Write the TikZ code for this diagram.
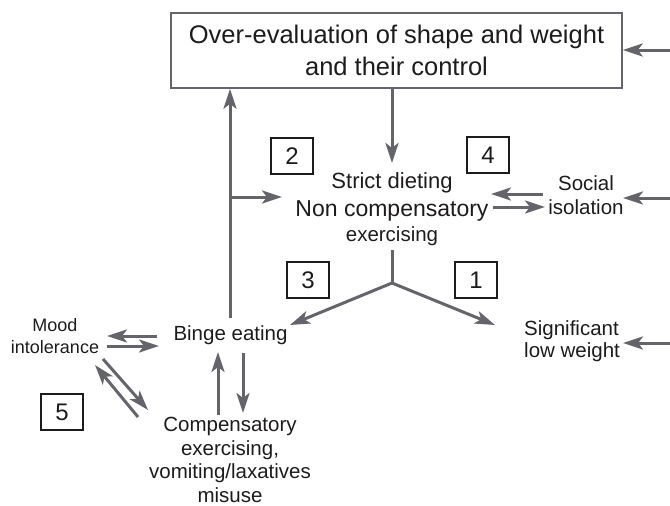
\documentclass[tikz,border=0pt]{standalone}
\usepackage{fontspec}
\setmainfont{Liberation Sans}
\usetikzlibrary{arrows.meta}
\definecolor{linegray}{RGB}{100,100,106}
\definecolor{txt}{RGB}{30,27,28}
\begin{document}
\begin{tikzpicture}[x=1pt,y=-1pt,
  arr/.style={draw=linegray,line width=3pt,-{Stealth[length=20pt,width=13pt,inset=5pt]}},
  ln/.style={draw=linegray,line width=3pt},
  lbl/.style={text=txt,inner sep=0pt,align=center,font=\fontsize{20.5}{24}\selectfont},
  numbox/.style={draw=txt,line width=1.2pt,minimum width=42pt,minimum height=36pt,inner sep=0pt,text=txt,font=\fontsize{24}{28}\selectfont}]
\useasboundingbox (0,0) rectangle (670,506);

% main box
\node[draw=linegray,line width=1.5pt,minimum width=451pt,minimum height=75pt,inner sep=0pt,
      text=txt,align=center,font=\fontsize{25.5}{32}\selectfont] (main) at (396.5,50.5)
      {Over-evaluation of shape and weight\\and their control};

% labels
\node[lbl,font=\fontsize{22}{24}\selectfont] (strict) at (392,183) {Strict dieting};
\node[lbl,font=\fontsize{23}{26}\selectfont] (noncomp) at (392,211) {Non compensatory};
\node[lbl] (exer) at (392,236) {exercising};
\node[lbl] (social) at (586,195) {Social\\isolation};
\node[lbl,align=left,anchor=west,font=\fontsize{20.5}{22}\selectfont] (sig) at (524,341) {Significant\\low weight};
\node[lbl] (binge) at (230.5,335) {Binge eating};
\node[lbl,font=\fontsize{18}{22}\selectfont] (mood) at (55,336) {Mood\\intolerance};
\node[lbl,font=\fontsize{20.5}{23.5}\selectfont] (comp) at (230,460) {Compensatory\\exercising,\\vomiting/laxatives\\misuse};

% number boxes
\node[numbox] (b2) at (292,156) {2};
\node[numbox] (b4) at (488,155) {4};
\node[numbox] (b3) at (308,280) {3};
\node[numbox] (b1) at (476,280) {1};
\node[numbox] (b5) at (62,412) {5};

% connector coordinates
\coordinate (rin1) at (670,50);
\coordinate (rin2) at (670,198);
\coordinate (rin3) at (670,343);
\coordinate (junc) at (392,283);
\coordinate (branch) at (230,197);

% connectors
\draw[arr] (rin1) -- (main.east |- rin1);
\draw[arr] (main.south -| strict) -- (392,163);
\draw[arr] (230,318) -- (main.south -| branch);
\draw[arr] (branch) -- (282,197);
\draw[ln] (392,250) -- (junc);
\draw[arr] (junc) -- (290,325);
\draw[arr] (junc) -- (495,325);
\draw[arr] (543,194) -- (491,194);
\draw[arr] (493,207) -- (545,207);
\draw[arr] (rin2) -- (623,198);
\draw[arr] (rin3) -- (623,343);
\draw[arr] (157,336) -- (107,336);
\draw[arr] (107,346) -- (159,346);
\draw[arr] (103,359) -- (148,410);
\draw[arr] (138,417) -- (95,365);
\draw[arr] (218,415) -- (218,352);
\draw[arr] (243,353) -- (243,413);
\end{tikzpicture}
\end{document}
